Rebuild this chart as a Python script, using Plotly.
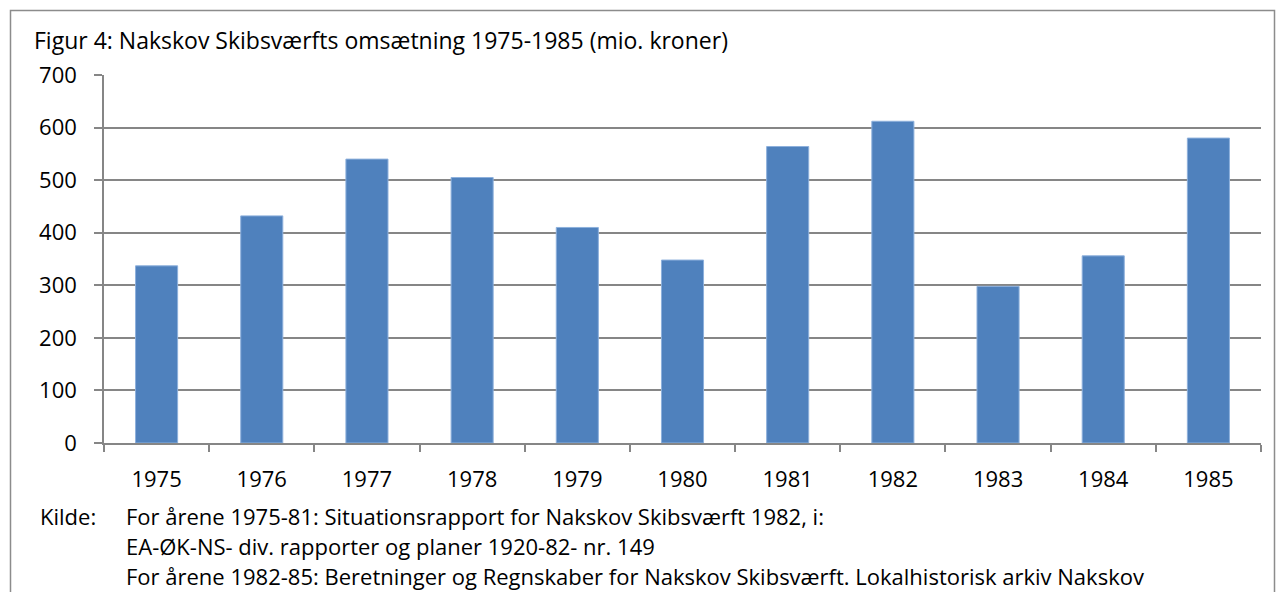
import plotly.graph_objects as go

years = ["1975", "1976", "1977", "1978", "1979", "1980", "1981", "1982", "1983", "1984", "1985"]
revenue = [337, 432, 540, 505, 410, 348, 564, 612, 298, 356, 580]
y_ticks = [0, 100, 200, 300, 400, 500, 600, 700]

title_text = "Figur 4: Nakskov Skibsværfts omsætning 1975-1985 (mio. kroner)"
source_label = "Kilde:"
source_lines = [
    "For årene 1975-81: Situationsrapport for Nakskov Skibsværft 1982, i:",
    "EA-ØK-NS- div. rapporter og planer 1920-82- nr. 149",
    "For årene 1982-85: Beretninger og Regnskaber for Nakskov Skibsværft. Lokalhistorisk arkiv Nakskov",
]

W, H = 1277, 592
L, R, T, B = 104, 16, 75, 149
pw, ph = W - L - R, H - T - B

def px_x(px):
    return (px - L) / pw

def px_y(py):
    return (H - B - py) / ph

FONT = "Open Sans"
FS = 22
GRID = "#868686"

fig = go.Figure(go.Bar(
    x=years, y=revenue,
    marker=dict(color="#4F81BD", line=dict(color="#8DB0DC", width=1)),
    width=0.4,
))

annotations = [
    dict(text=title_text, x=px_x(32), y=px_y(40), xanchor="left", yanchor="middle",
         showarrow=False, font=dict(size=23, color="black", family=FONT)),
    dict(text=source_label, x=px_x(38), y=px_y(516), xanchor="left", yanchor="middle",
         showarrow=False, font=dict(size=FS, color="black", family=FONT)),
]
for i, line in enumerate(source_lines):
    annotations.append(dict(text=line, x=px_x(124), y=px_y(516 + 30 * i), xanchor="left",
                            yanchor="middle", showarrow=False,
                            font=dict(size=FS, color="black", family=FONT)))
for a in annotations:
    a["xref"] = "paper"
    a["yref"] = "paper"

fig.update_layout(
    width=W, height=H,
    margin=dict(l=L, r=R, t=T, b=B),
    paper_bgcolor="white", plot_bgcolor="white",
    showlegend=False,
    font=dict(family=FONT, size=FS, color="black"),
    annotations=annotations,
    shapes=[dict(type="rect", xref="paper", yref="paper",
                 x0=px_x(10.5), x1=px_x(1274.5), y0=px_y(620), y1=px_y(10.5),
                 line=dict(color="#8C8C8C", width=1.5), layer="below")],
    bargap=0.6,
)
fig.update_xaxes(
    type="category", showline=True, linecolor=GRID, linewidth=1.5,
    ticks="outside", tickson="boundaries", ticklen=7, tickcolor=GRID, tickwidth=1.5,
    showgrid=False, tickfont=dict(size=FS), ticklabelstandoff=16,
)
fig.update_yaxes(
    range=[0, 700], tickvals=y_ticks, showline=True, linecolor=GRID, linewidth=1.5,
    ticks="outside", ticklen=8, tickcolor=GRID, tickwidth=1.5,
    showgrid=True, gridcolor=GRID, gridwidth=1.5, zeroline=False,
    tickfont=dict(size=FS), ticklabelstandoff=13,
)

fig.write_html("out.html")
